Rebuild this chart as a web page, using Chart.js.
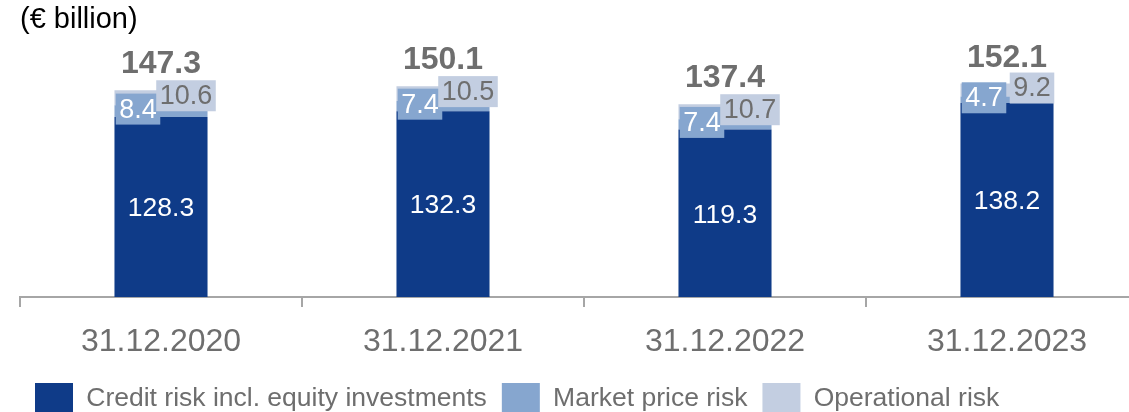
<!DOCTYPE html>
<html>
<head>
<meta charset="utf-8">
<title>Risk-weighted assets</title>
<script src="https://cdn.jsdelivr.net/npm/chart.js@4/dist/chart.umd.min.js"></script>
<style>
  html, body { margin: 0; padding: 0; overflow: hidden; background: #ffffff; }
  #wrap { width: 1150px; height: 425px; }
</style>
</head>
<body>
<div id="wrap"><canvas id="c" width="1150" height="425"></canvas></div>
<script>
// Reporting dates and components (€ billion)
const categories = ['31.12.2020', '31.12.2021', '31.12.2022', '31.12.2023'];
const creditRisk = [128.3, 132.3, 119.3, 138.2];
const marketPriceRisk = [8.4, 7.4, 7.4, 4.7];
const operationalRisk = [10.6, 10.5, 10.7, 9.2];
const totals = [147.3, 150.1, 137.4, 152.1];

const DARK = '#0f3b88';
const MID = '#86a6cf';
const LIGHT = '#c3cee1';
const GREY = '#6e6e6e';
const FAMILY = '"Liberation Sans", Arial, Helvetica, sans-serif';

Chart.defaults.font.family = FAMILY;

const fmt = v => v.toFixed(1);

function boxLabel(ctx, text, cx, cy, fill, color) {
  ctx.font = '27px ' + FAMILY;
  const w = ctx.measureText(text).width + 7;
  const h = 31;
  ctx.fillStyle = fill;
  ctx.fillRect(cx - w / 2, cy - h / 2, w, h);
  ctx.fillStyle = color;
  ctx.textAlign = 'center';
  ctx.textBaseline = 'middle';
  ctx.fillText(text, cx, cy + 1);
}

// Value labels: credit inside the bar, market/operational in filled boxes, total on top
const segmentLabels = {
  id: 'segmentLabels',
  afterDatasetsDraw(chart) {
    const ctx = chart.ctx;
    const m0 = chart.getDatasetMeta(0);
    const m1 = chart.getDatasetMeta(1);
    const m2 = chart.getDatasetMeta(2);
    ctx.save();
    categories.forEach((_, i) => {
      const b0 = m0.data[i], b1 = m1.data[i], b2 = m2.data[i];
      ctx.font = '26.5px ' + FAMILY;
      ctx.fillStyle = '#ffffff';
      ctx.textAlign = 'center';
      ctx.textBaseline = 'middle';
      ctx.fillText(fmt(creditRisk[i]), b0.x, (b0.y + b0.base) / 2 + 2);

      boxLabel(ctx, fmt(marketPriceRisk[i]), b1.x - 23, (b1.y + b1.base) / 2 - 2, MID, '#ffffff');
      boxLabel(ctx, fmt(operationalRisk[i]), b2.x + 25, (b2.y + b2.base) / 2 - 2, LIGHT, GREY);

      ctx.font = 'bold 32px ' + FAMILY;
      ctx.fillStyle = GREY;
      ctx.textAlign = 'center';
      ctx.textBaseline = 'alphabetic';
      ctx.fillText(fmt(totals[i]), b2.x, b2.y - 17);
    });
    ctx.restore();
  }
};

new Chart(document.getElementById('c'), {
  type: 'bar',
  data: {
    labels: categories,
    datasets: [
      { label: 'Credit risk incl. equity investments', data: creditRisk, backgroundColor: DARK },
      { label: 'Market price risk', data: marketPriceRisk, backgroundColor: MID },
      { label: 'Operational risk', data: operationalRisk, backgroundColor: LIGHT }
    ]
  },
  options: {
    responsive: false,
    animation: false,
    devicePixelRatio: 1,
    layout: { padding: { left: 20, right: 2, top: 0, bottom: 0 } },
    datasets: { bar: { categoryPercentage: 1, barPercentage: 0.33, borderWidth: 0 } },
    scales: {
      x: {
        stacked: true,
        offset: true,
        afterFit(scale) { scale.height = 71; },
        border: { display: true, color: '#a6a6a6', width: 2 },
        grid: { display: true, offset: true, drawOnChartArea: false, drawTicks: true, tickLength: 10, color: '#a6a6a6', lineWidth: 2 },
        ticks: { color: GREY, font: { size: 32 }, padding: 16, maxRotation: 0 }
      },
      y: {
        stacked: true,
        display: false,
        min: 0,
        max: 160
      }
    },
    plugins: {
      title: {
        display: true,
        text: '(€ billion)',
        align: 'start',
        color: '#000000',
        font: { size: 29, weight: 'normal' },
        padding: { top: 3, bottom: 34.7 }
      },
      legend: {
        position: 'bottom',
        align: 'start',
        labels: {
          boxWidth: 38,
          boxHeight: 32,
          padding: 15,
          color: GREY,
          font: { size: 26.5 }
        }
      },
      tooltip: { enabled: false }
    }
  },
  plugins: [segmentLabels]
});
</script>
</body>
</html>
